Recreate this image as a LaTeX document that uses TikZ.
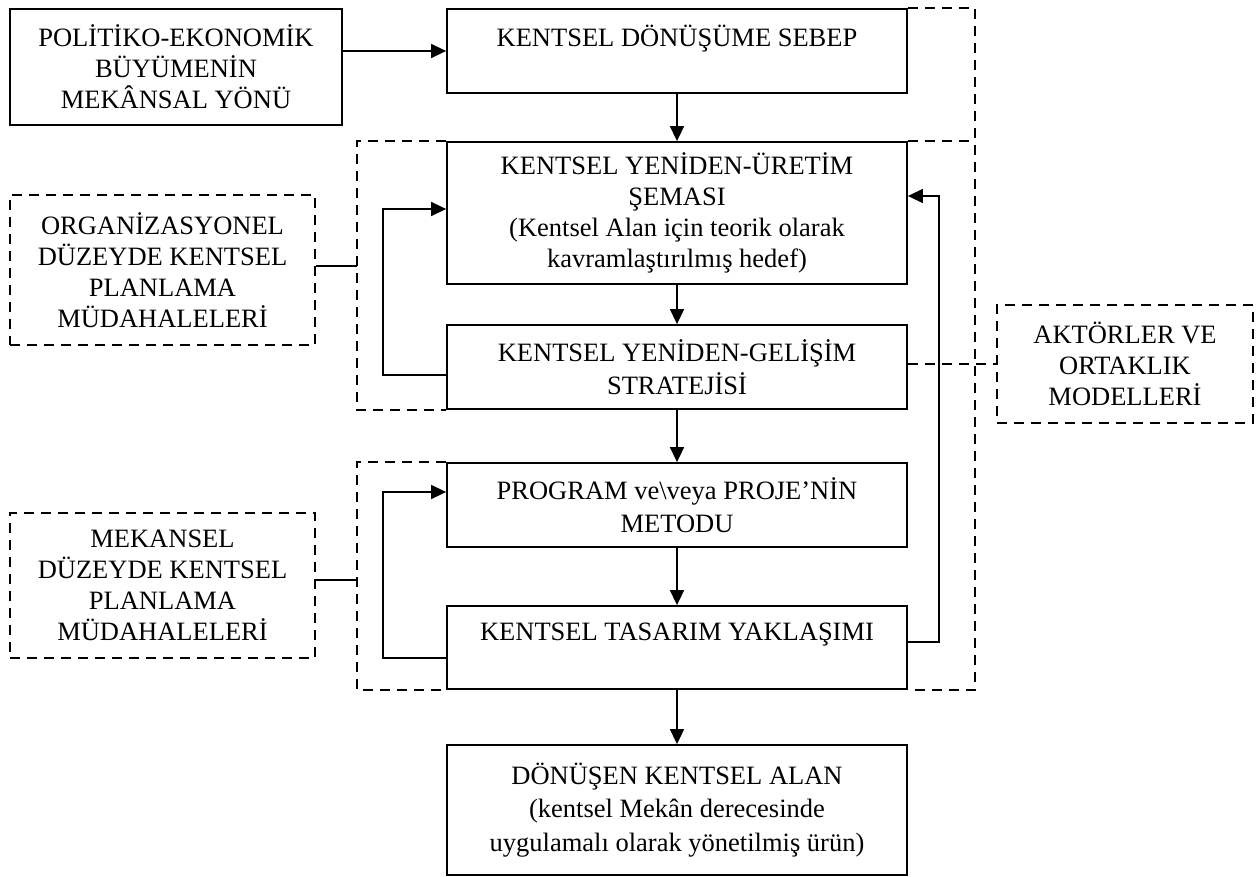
\documentclass[tikz,border=0pt]{standalone}
\usepackage{fontspec}
\setmainfont{Liberation Serif}
\usetikzlibrary{arrows.meta,calc}
\begin{document}
\begin{tikzpicture}[x=1pt,y=-1pt,
  box/.style={draw, line width=1.8pt, inner sep=0pt, align=center,
    font=\fontsize{26.5}{31}\selectfont, minimum width=460pt},
  wide/.style={font=\fontsize{26.5}{33.5}\selectfont},
  dbox/.style={box, dash pattern=on 10pt off 7pt},
  arr/.style={line width=1.6pt, -{Triangle[length=15pt,width=14pt]}},
  ln/.style={line width=1.6pt},
  dln/.style={line width=1.8pt, dash pattern=on 10pt off 7pt}]
\fill[white] (0,0) rectangle (1257,877);
\useasboundingbox (0,0) rectangle (1257,877);

% nodes
\node[box, minimum width=332pt, minimum height=116pt] (pol) at (176,67)
  {POLİTİKO-EKONOMİK\\BÜYÜMENİN\\MEKÂNSAL YÖNÜ};
\node[box, minimum height=84pt] (seb) at (677,51)
  {KENTSEL DÖNÜŞÜME SEBEP\\\mbox{}};
\node[box, minimum height=142pt] (ure) at (677,213)
  {KENTSEL YENİDEN-ÜRETİM\\ŞEMASI\\(Kentsel Alan için teorik olarak\\kavramlaştırılmış hedef)};
\node[box, wide, minimum height=84pt] (gel) at (677,367)
  {KENTSEL YENİDEN-GELİŞİM\\STRATEJİSİ};
\node[box, wide, minimum height=84pt] (prog) at (677,505)
  {PROGRAM ve\textbackslash veya PROJE’NİN\\METODU};
\node[box, minimum height=83pt] (tas) at (677,647.5)
  {KENTSEL TASARIM YAKLAŞIMI\\\mbox{}};
\node[box, wide, minimum height=130pt] (don) at (677,810)
  {DÖNÜŞEN KENTSEL ALAN\\(kentsel Mekân derecesinde\\uygulamalı olarak yönetilmiş ürün)};
\node[dbox, minimum width=305pt, minimum height=150pt] (org) at (162.5,270)
  {ORGANİZASYONEL\\DÜZEYDE KENTSEL\\PLANLAMA\\MÜDAHALELERİ};
\node[dbox, minimum width=305pt, minimum height=145pt] (mek) at (162.5,585.5)
  {MEKANSEL\\DÜZEYDE KENTSEL\\PLANLAMA\\MÜDAHALELERİ};
\node[dbox, minimum width=256pt, minimum height=118pt] (akt) at (1125,364)
  {AKTÖRLER VE\\ORTAKLIK\\MODELLERİ};

% dashed frames
\coordinate (fl) at (357,0);
\coordinate (fr) at (975,0);
\draw[dln] (seb.north east) -- (fr |- seb.north east) -- (fr |- tas.south east) -- (tas.south east);
\draw[dln] (ure.north east) -- (fr |- ure.north east);
\draw[dln] (ure.north west) -- (fl |- ure.north west) -- (fl |- gel.south west) -- (gel.south west);
\draw[dln] (prog.north west) -- (fl |- prog.north west) -- (fl |- tas.south west) -- (tas.south west);

% side connectors
\coordinate (oc) at (357,266);
\draw[ln] (org.east |- oc) -- (oc);
\coordinate (mc) at (357,580);
\draw[ln] (mek.east |- mc) -- (mc);
\draw[dln] (gel.east |- akt.west) -- (akt.west);

% main arrows
\draw[arr] (pol.east |- seb.west) -- (seb.west);
\draw[arr] (seb.south) -- (ure.north);
\draw[arr] (ure.south) -- (gel.north);
\draw[arr] (gel.south) -- (prog.north);
\draw[arr] (prog.south) -- (tas.north);
\draw[arr] (tas.south) -- (don.north);

% feedback loops
\coordinate (l1) at (383,209);
\coordinate (l1b) at (383,375);
\draw[arr] (gel.west |- l1b) -- (l1b) -- (l1) -- (ure.west |- l1);
\coordinate (l2) at (383,492);
\coordinate (l2b) at (383,658);
\draw[arr] (tas.west |- l2b) -- (l2b) -- (l2) -- (prog.west |- l2);
\coordinate (r1) at (939,196);
\coordinate (r1b) at (939,642);
\draw[arr] (tas.east |- r1b) -- (r1b) -- (r1) -- (ure.east |- r1);
\end{tikzpicture}
\end{document}
